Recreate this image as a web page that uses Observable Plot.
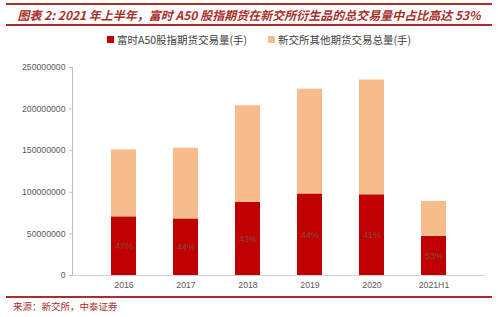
<!DOCTYPE html>
<html>
<head>
<meta charset="utf-8">
<script src="https://cdn.jsdelivr.net/npm/d3@7"></script>
<script src="https://cdn.jsdelivr.net/npm/@observablehq/plot@0.6"></script>
<style>
  html, body { margin: 0; padding: 0; background: #fff; }
  #wrap { position: relative; width: 498px; height: 317px; overflow: hidden; font-family: "Noto Sans CJK SC", "Noto Sans", sans-serif; }
  .rule { position: absolute; left: 6px; width: 486px; height: 2px; background: #a8302c; }
  #title { position: absolute; left: 0; width: 498px; top: 6px; text-align: center; font-size: 12px; font-weight: bold; font-style: italic; color: #a8302c; white-space: nowrap; }
  #legend { position: absolute; top: 32px; left: 0; width: 498px; font-size: 10.5px; color: #404040; white-space: nowrap; }
  .lg { position: absolute; top: 0; display: flex; align-items: center; }
  .sw { width: 7px; height: 7px; margin-right: 3px; }
  #chart { position: absolute; left: 0; top: 55px; }
  #source { position: absolute; left: 13px; top: 299px; font-size: 9.5px; color: #a8302c; white-space: nowrap; }
</style>
</head>
<body>
<div id="wrap">
  <div class="rule" style="top:3px"></div>
  <div id="title">图表 2: 2021 年上半年，富时 A50 股指期货在新交所衍生品的总交易量中占比高达 53%</div>
  <div class="rule" style="top:24px"></div>
  <div id="legend"></div>
  <div id="chart"></div>
  <div class="rule" style="top:296px; height:1.5px"></div>
  <div id="source">来源：新交所，中泰证券</div>
</div>
<script>
const years = ["2016", "2017", "2018", "2019", "2020", "2021H1"];
const a50Volume = [70500000, 68000000, 88000000, 98000000, 97000000, 47000000];
const otherVolume = [80500000, 85000000, 116000000, 126000000, 138000000, 42000000];
const shareLabels = ["47%", "44%", "43%", "44%", "41%", "53%"];
const seriesNames = ["富时A50股指期货交易量(手)", "新交所其他期货交易总量(手)"];
const seriesColors = ["#c00000", "#f6bc8c"];
const yTicks = [0, 50000000, 100000000, 150000000, 200000000, 250000000];

const rows = [];
years.forEach((y, i) => {
  rows.push({year: y, series: seriesNames[0], value: a50Volume[i]});
  rows.push({year: y, series: seriesNames[1], value: otherVolume[i]});
});
const labels = years.map((y, i) => ({year: y, value: a50Volume[i] / 2, text: shareLabels[i]}));

// legend
const legend = document.getElementById("legend");
const legendX = [107, 268];
seriesNames.forEach((n, i) => {
  const d = document.createElement("div");
  d.className = "lg";
  d.style.left = legendX[i] + "px";
  d.innerHTML = `<div class="sw" style="background:${seriesColors[i]}"></div><span>${n}</span>`;
  legend.appendChild(d);
});

const chart = Plot.plot({
  width: 498,
  height: 240,
  marginTop: 12,
  marginBottom: 20,
  marginLeft: 72,
  marginRight: 13,
  style: {fontFamily: "Liberation Sans, Arial, sans-serif", fontSize: "8.7px", color: "#595959", background: "#fff"},
  x: {domain: years, padding: 0.59, label: null, tickSize: 0, tickPadding: 6},
  y: {domain: [0, 250000000], ticks: yTicks, tickFormat: d => String(d), label: null, tickSize: 3, tickPadding: 4},
  color: {domain: seriesNames, range: seriesColors},
  marks: [
    Plot.barY(rows, {x: "year", y: "value", fill: "series", order: seriesNames}),
    Plot.text(labels, {x: "year", y: "value", text: "text", fill: "#8a4a4a", fontSize: 9}),
    Plot.ruleY([0], {stroke: "#d0d0d0", strokeWidth: 1.2}),
    Plot.axisY({ticks: yTicks, tickFormat: d => String(d), tickSize: 3, tickPadding: 4, stroke: "#bfbfbf", fill: "#595959", label: null}),
    Plot.frame({anchor: "left", stroke: "#bfbfbf"}),
    Plot.axisX({tickSize: 0, tickPadding: 6, fill: "#595959", label: null})
  ]
});
document.getElementById("chart").appendChild(chart);
</script>
</body>
</html>
